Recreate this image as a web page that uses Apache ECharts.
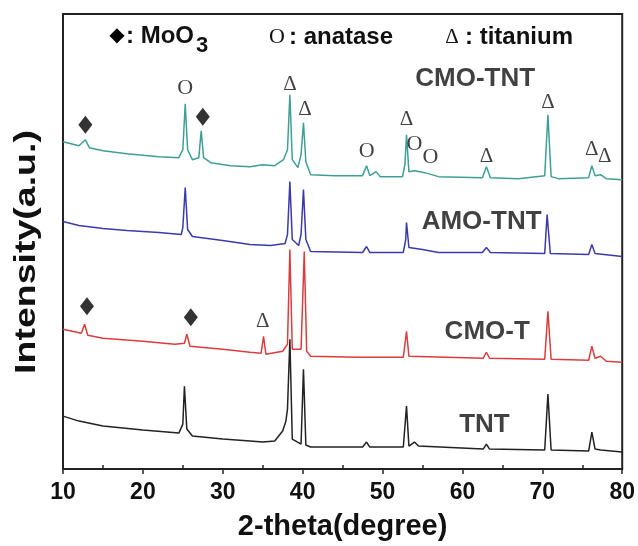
<!DOCTYPE html>
<html>
<head>
<meta charset="utf-8">
<script src="https://cdn.jsdelivr.net/npm/echarts@6/dist/echarts.min.js"></script>
<style>
  html, body { margin: 0; padding: 0; background: #fff; }
  #chart { width: 638px; height: 546px; }
</style>
</head>
<body>
<div id="chart"></div>
<script>
// 2-theta (degree) and stacked intensity (a.u., offset already added)
var cmoTnt = [
  [10, 328], [11, 326], [12, 324], [12.8, 330], [13.3, 322], [15, 319], [18, 316], [22, 313],
  [24.5, 312], [25.0, 320], [25.3, 366], [25.6, 320], [26.2, 310], [27.0, 312], [27.3, 339],
  [27.6, 312], [28.5, 307], [31, 304], [33.4, 303], [35, 305], [36.5, 304], [37.6, 310],
  [38.1, 320], [38.4, 375], [38.7, 310], [39.4, 302], [39.8, 315], [40.1, 347], [40.4, 308],
  [41, 295], [44, 294], [47.5, 294], [48, 304], [48.4, 294], [49.2, 298], [49.7, 293],
  [52.5, 293], [52.8, 305], [53.0, 335], [53.3, 298], [54, 299], [55.3, 297], [57, 293],
  [62.5, 292], [63, 303], [63.5, 292], [67, 291], [70.3, 294], [70.7, 355], [71.1, 293],
  [72, 291], [75.8, 292], [76.2, 304], [76.6, 294], [77.3, 295], [78, 291], [80, 290]
];
var amoTnt = [
  [10, 248], [12, 244], [15, 241], [18, 239], [22, 237], [24.8, 235], [25.0, 242], [25.3, 282],
  [25.6, 240], [26.2, 233], [30, 229], [33.4, 225], [36, 224], [37.8, 226], [38.1, 235],
  [38.4, 288], [38.7, 230], [39.5, 224], [39.8, 235], [40.1, 280], [40.4, 230], [41, 218],
  [47.5, 217], [48, 223], [48.4, 217], [52.6, 217], [52.9, 230], [53.0, 247], [53.3, 222],
  [55, 220], [57, 217], [62.5, 217], [63, 222], [63.5, 217], [70.3, 216], [70.6, 255],
  [71, 216], [75.8, 215], [76.2, 225], [76.6, 216], [80, 213]
];
var cmoT = [
  [10, 140], [12.3, 136], [12.7, 145], [13.1, 134], [15, 131], [20, 128], [24, 125], [25.2, 126],
  [25.5, 135], [25.9, 123], [30, 120], [33.4, 117], [34.8, 116], [35.1, 133], [35.4, 115],
  [37.5, 118], [38.1, 125], [38.4, 220], [38.7, 120], [39.8, 120], [40.2, 218], [40.5, 118],
  [41, 113], [47, 112], [52.6, 112], [53.0, 138], [53.3, 113], [62.6, 111], [63.0, 117],
  [63.4, 111], [70.3, 110], [70.7, 158], [71.1, 110], [75.8, 109], [76.2, 123], [76.6, 111],
  [77.3, 113], [78, 108], [80, 107]
];
var tnt = [
  [10, 53], [12, 48], [15, 43], [20, 39], [24.5, 36], [25.0, 45], [25.2, 83], [25.5, 40],
  [26.2, 33], [30, 30], [33.4, 28], [35, 27], [36.5, 28], [37.5, 38], [37.9, 48], [38.1, 60],
  [38.4, 130], [38.7, 30], [39.8, 25], [40.1, 100], [40.4, 24], [41, 22], [47.5, 22], [48, 27],
  [48.4, 22], [52.6, 22], [53.0, 63], [53.3, 23], [54, 27], [54.5, 23], [62.6, 20], [63.0, 25],
  [63.4, 20], [70.3, 19], [70.7, 75], [71.1, 19], [75.8, 18], [76.2, 37], [76.6, 20],
  [77.3, 19], [80, 17]
];

// phase markers: [2-theta, height]
var diamondMarks = [[12.8, 345], [27.5, 353], [13.0, 163], [26.0, 152]];
var anataseMarks = [[25.3, 382], [48.0, 318], [54.0, 325], [56.0, 312]];
var titaniumMarks = [
  [38.4, 385], [40.3, 360], [53.0, 350], [63.0, 313], [70.7, 367], [76.2, 320], [77.8, 313],
  [35.0, 148]
];
// sample names: [2-theta, height, name]
var sampleLabels = [[61.6, 391, 'CMO-TNT'], [62.4, 248, 'AMO-TNT'], [63.1, 137, 'CMO-T'], [62.75, 44, 'TNT']];

var xTicks = [10, 20, 30, 40, 50, 60, 70, 80];

var chart = echarts.init(document.getElementById('chart'));
var font = 'Liberation Sans, Arial, sans-serif';
var serif = 'Liberation Serif, Times New Roman, serif';

function lineSeries(name, data, color) {
  return {
    name: name,
    type: 'line',
    data: data,
    showSymbol: false,
    symbol: 'none',
    animation: false,
    lineStyle: { color: color, width: 1.5 },
    z: 3
  };
}

var option = {
  animation: false,
  grid: {
    left: 63, right: 15, top: 14, bottom: 76,
    show: true, borderColor: '#222', borderWidth: 2
  },
  xAxis: [{
    type: 'value',
    min: 10, max: 80, interval: 10,
    position: 'bottom',
    name: '2-theta(degree)',
    nameLocation: 'middle',
    nameGap: 43,
    nameTextStyle: { fontFamily: font, fontWeight: 'bold', fontSize: 29, color: '#111' },
    axisLine: { lineStyle: { color: '#222', width: 2 } },
    axisTick: { show: true, inside: false, length: 5, lineStyle: { color: '#222', width: 1.5 } },
    axisLabel: {
      margin: 12, fontFamily: font, fontWeight: 'bold', fontSize: 23, color: '#111',
      formatter: function (v) { return xTicks.indexOf(v) >= 0 ? String(v) : ''; }
    },
    splitLine: { show: false }
  }, {
    type: 'value',
    min: 10, max: 80, interval: 10,
    position: 'bottom',
    axisLine: { show: false },
    axisTick: { show: false, inside: true },
    minorTick: { show: true, splitNumber: 2, length: 4, lineStyle: { color: '#222', width: 1.5 } },
    axisLabel: { show: false },
    splitLine: { show: false }
  }],
  yAxis: {
    type: 'value',
    min: 0, max: 456,
    axisLine: { show: true, lineStyle: { color: '#222', width: 2 } },
    axisTick: { show: false },
    axisLabel: { show: false },
    splitLine: { show: false }
  },
  series: [
    lineSeries('CMO-TNT', cmoTnt, '#3e9f97'),
    lineSeries('AMO-TNT', amoTnt, '#3a3aaa'),
    lineSeries('CMO-T', cmoT, '#da3d3d'),
    lineSeries('TNT', tnt, '#222222'),
    {
      type: 'scatter',
      data: diamondMarks,
      symbol: 'diamond',
      symbolSize: [14, 18],
      itemStyle: { color: '#000' },
      z: 5
    },
    {
      type: 'scatter',
      data: anataseMarks,
      symbolSize: 0,
      label: {
        show: true, position: 'inside', formatter: 'O',
        fontFamily: serif, fontSize: 22, color: '#111'
      },
      z: 5
    },
    {
      type: 'scatter',
      data: titaniumMarks,
      symbolSize: 0,
      label: {
        show: true, position: 'inside', formatter: 'Δ',
        fontFamily: serif, fontSize: 21, color: '#111'
      },
      z: 5
    },
    {
      type: 'scatter',
      data: sampleLabels,
      symbolSize: 0,
      label: {
        show: true, position: 'inside',
        formatter: function (p) { return p.data[2]; },
        fontFamily: font, fontWeight: 'bold', fontSize: 26, color: '#111'
      },
      z: 5
    }
  ],
  graphic: [
    {
      type: 'text', x: 27, y: 252, rotation: Math.PI / 2, scaleX: 1.25,
      style: { text: 'Intensity(a.u.)', font: 'bold 30px ' + font, fill: '#111', align: 'center', verticalAlign: 'middle' }
    },
    { type: 'text', x: 117, y: 36, style: { text: '◆', font: '20px DejaVu Sans', fill: '#000', align: 'center', verticalAlign: 'middle' } },
    { type: 'text', x: 126, y: 36, style: { text: ': MoO', font: 'bold 24px ' + font, fill: '#111', align: 'left', verticalAlign: 'middle' } },
    { type: 'text', x: 196, y: 46, style: { text: '3', font: 'bold 22px ' + font, fill: '#111', align: 'left', verticalAlign: 'middle' } },
    { type: 'text', x: 277, y: 37, style: { text: 'O', font: '22px ' + serif, fill: '#111', align: 'center', verticalAlign: 'middle' } },
    { type: 'text', x: 289, y: 37, style: { text: ': anatase', font: 'bold 24px ' + font, fill: '#111', align: 'left', verticalAlign: 'middle' } },
    { type: 'text', x: 452, y: 37, style: { text: 'Δ', font: '21px ' + serif, fill: '#111', align: 'center', verticalAlign: 'middle' } },
    { type: 'text', x: 465, y: 37, style: { text: ': titanium', font: 'bold 24px ' + font, fill: '#111', align: 'left', verticalAlign: 'middle' } }
  ]
};

chart.setOption(option);
</script>
</body>
</html>
